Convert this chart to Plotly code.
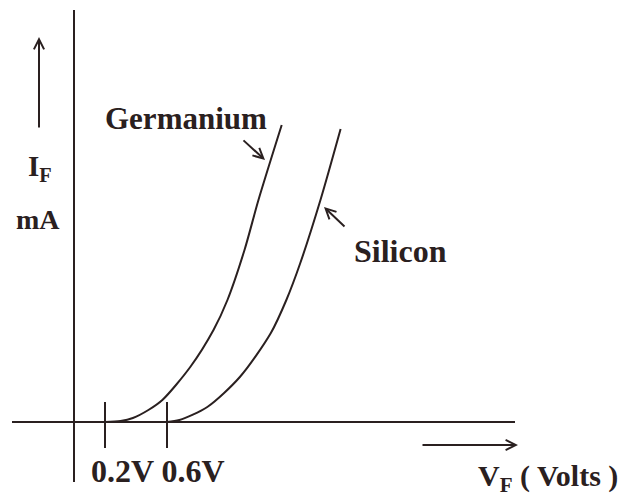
import plotly.graph_objects as go

# ---- data (schematic forward characteristics) ----
ge_v = [0.20, 0.30, 0.38, 0.48, 0.57, 0.75, 0.90, 0.99, 1.10, 1.19, 1.34]
ge_ma = [0.0, 0.1, 0.4, 1.2, 2.2, 5.5, 9.2, 12.2, 17.2, 22.2, 29.7]
si_v = [0.60, 0.68, 0.86, 1.07, 1.27, 1.37, 1.46, 1.59, 1.72]
si_ma = [0.0, 0.2, 1.5, 4.5, 8.9, 12.2, 15.9, 22.2, 29.3]
knee_v = [0.2, 0.6]
knee_labels = ["0.2V", "0.6V"]

PAGE_OFF = 8              # default body margin of the html page
W, H = 628 - PAGE_OFF, 500 - PAGE_OFF
X0, Y0 = 74, 422          # screen pixel position of origin
PXV, PXMA = 155.0, 10.0   # pixels per volt / per mA

def dx(px):
    return (px - X0) / PXV

def dy(py):
    return (Y0 - py) / PXMA

INK = "#2a2020"
FONT = "Liberation Serif"

fig = go.Figure()
fig.add_trace(go.Scatter(x=ge_v, y=ge_ma, mode="lines", name="Germanium",
                         line=dict(color=INK, width=2, shape="spline", smoothing=0.8)))
fig.add_trace(go.Scatter(x=si_v, y=si_ma, mode="lines", name="Silicon",
                         line=dict(color=INK, width=2, shape="spline", smoothing=0.8)))

shapes = []
# axes
shapes.append(dict(type="line", x0=0, x1=0, y0=dy(482), y1=dy(10),
                   line=dict(color=INK, width=2)))
shapes.append(dict(type="line", x0=dx(12), x1=dx(515), y0=0, y1=0,
                   line=dict(color=INK, width=2)))
# knee ticks
for v in knee_v:
    shapes.append(dict(type="line", x0=v, x1=v, y0=dy(448), y1=dy(402),
                       line=dict(color=INK, width=2)))

anns = []
def arrow(tail, head):
    anns.append(dict(x=dx(head[0]), y=dy(head[1]), ax=dx(tail[0]), ay=dy(tail[1]),
                     xref="x", yref="y", axref="x", ayref="y", text="",
                     font=dict(family=FONT, size=10, color=INK),
                     showarrow=True, arrowhead=5, arrowsize=1, arrowwidth=2,
                     arrowcolor=INK, standoff=0, startstandoff=0))

arrow((39, 129), (39, 37))     # I_F direction
arrow((421, 445), (518, 445))  # V_F direction
arrow((242, 139), (265, 160))  # Germanium pointer
arrow((346, 228), (324, 207))  # Silicon pointer

def label(text, px, py, size, xanchor="center"):
    anns.append(dict(x=dx(px), y=dy(py), xref="x", yref="y", text=text,
                     showarrow=False, xanchor=xanchor, yanchor="middle",
                     font=dict(family=FONT, size=size, color=INK, weight="bold")))

label("<b>Germanium</b>", 186, 118, 31)
label("<b>Silicon</b>", 400, 251, 32)
label("<b>I<sub>F</sub></b>", 26, 168, 29, xanchor="left")
label("<b>mA</b>", 38, 219, 28)
label("<b>" + " ".join(knee_labels) + "</b>", 158, 471, 32)
label("<b>V<sub>F</sub> ( Volts )</b>", 476, 478, 30, xanchor="left")

fig.update_layout(
    width=W, height=H,
    margin=dict(l=0, r=0, t=0, b=0),
    paper_bgcolor="white", plot_bgcolor="white",
    showlegend=False,
    xaxis=dict(range=[dx(PAGE_OFF), dx(628)], visible=False, fixedrange=True),
    yaxis=dict(range=[dy(500), dy(PAGE_OFF)], visible=False, fixedrange=True),
    shapes=shapes, annotations=anns,
)

fig.write_html("out.html")
